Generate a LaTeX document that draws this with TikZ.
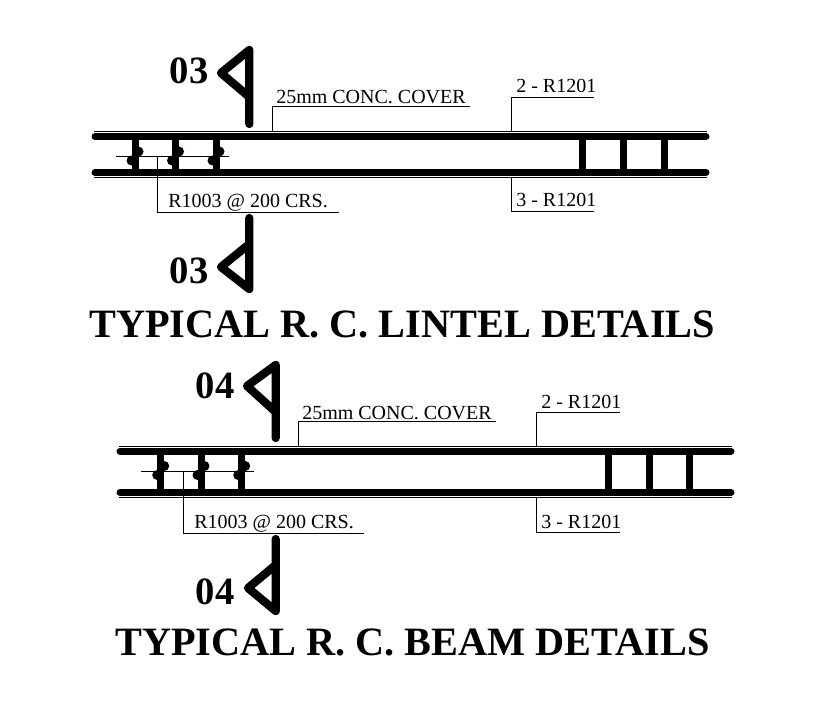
\documentclass[tikz,border=0pt]{standalone}
\usepackage{fontspec}
\setmainfont{Liberation Serif}
\tikzset{
  bar/.style={line width=5.25pt, line cap=round},
  stirrup/.style={line width=5.25pt},
  thinline/.style={line width=.7pt},
  sectionmark/.style={line width=6.2pt, line cap=round, line join=round},
  hook/.style={fill=black, radius=5},
  lbl/.style={anchor=base west, inner sep=0pt, font=\fontsize{15pt}{16pt}\selectfont},
  secno/.style={inner sep=0pt, font=\bfseries\fontsize{29pt}{30pt}\selectfont},
  heading/.style={anchor=base west, inner sep=0pt, font=\bfseries\fontsize{30.2pt}{32pt}\selectfont}
}
\begin{document}
\begin{tikzpicture}[x=.75pt, y=-.75pt]
  \useasboundingbox (0, 0) rectangle (835, 727);
  %%lintel bars
  \draw[thinline](94, 131.5) to (707, 131.5);
  \draw[bar](95, 136.5) to (706, 136.5);
  \draw[bar](95, 172.5) to (706, 172.5);
  \draw[thinline](94, 177.5) to (707, 177.5);
  %%lintel stirrups
  \draw[stirrup](135, 136.5) to (135, 172.5);
    \fill[hook](138.5, 151.5) circle;
    \fill[hook](131.5, 160.5) circle;
  \draw[stirrup](175.5, 136.5) to (175.5, 172.5);
    \fill[hook](179, 151.5) circle;
    \fill[hook](172, 160.5) circle;
  \draw[stirrup](216, 136.5) to (216, 172.5);
    \fill[hook](219.5, 151.5) circle;
    \fill[hook](212.5, 160.5) circle;
  \draw[stirrup](582.7, 136.5) to (582.7, 172.5);
  \draw[stirrup](623, 136.5) to (623, 172.5);
  \draw[stirrup](664, 136.5) to (664, 172.5);
  %%lintel leaders
  \draw[thinline](116, 156.5) to (229, 156.5);
  \draw[thinline](157.5, 156.5) to (157.5, 212.5) to (339, 212.5);
  \draw[thinline](272.5, 131.5) to (272.5, 106.5) to (470, 106.5);
  \draw[thinline](511.5, 131.5) to (511.5, 97.5) to (594, 97.5);
  \draw[thinline](511.5, 177.5) to (511.5, 211.5) to (594, 211.5);
  \node[lbl] (lintelcover) at (276, 104){25mm CONC. COVER};
  \node[lbl] (lintelstirrup) at (168, 208){R1003 @ 200 CRS.};
  \node[lbl] (lintelup) at (516, 93){2 - R1201};
  \node[lbl] (lintellow) at (516, 207){3 - R1201};
  %%lintel section marks
  \draw[sectionmark](249.3, 124) to (249.3, 50) to (221, 73) to (249.3, 97);
  \node[secno] (lintelsecup) at (189, 71){03};
  \draw[sectionmark](249.3, 218) to (249.3, 289) to (221, 267) to (249.3, 244);
  \node[secno] (lintelseclow) at (189, 271){03};
  \node[heading] (linteltitle) at (89, 337){TYPICAL R. C. LINTEL DETAILS};

  %%beam bars
  \draw[thinline](119, 446.5) to (732, 446.5);
  \draw[bar](120, 451.2) to (731, 451.2);
  \draw[bar](120, 492.3) to (731, 492.3);
  \draw[thinline](119, 497.5) to (732, 497.5);
  %%beam stirrups
  \draw[stirrup](160.7, 451.2) to (160.7, 492.3);
    \fill[hook](164.2, 466) circle;
    \fill[hook](157.2, 475) circle;
  \draw[stirrup](201, 451.2) to (201, 492.3);
    \fill[hook](204.5, 466) circle;
    \fill[hook](197.5, 475) circle;
  \draw[stirrup](241.7, 451.2) to (241.7, 492.3);
    \fill[hook](245.2, 466) circle;
    \fill[hook](238.2, 475) circle;
  \draw[stirrup](608, 451.2) to (608, 492.3);
  \draw[stirrup](649, 451.2) to (649, 492.3);
  \draw[stirrup](689, 451.2) to (689, 492.3);
  %%beam leaders
  \draw[thinline](141, 471.5) to (254, 471.5);
  \draw[thinline](183.5, 471.5) to (183.5, 533.5) to (364, 533.5);
  \draw[thinline](298.5, 446.5) to (298.5, 421.5) to (496, 421.5);
  \draw[thinline](536.5, 446.5) to (536.5, 412.5) to (620, 412.5);
  \draw[thinline](536.5, 497.5) to (536.5, 532.5) to (620, 532.5);
  \node[lbl] (beamcover) at (302, 419){25mm CONC. COVER};
  \node[lbl] (beamstirrup) at (194, 528){R1003 @ 200 CRS.};
  \node[lbl] (beamup) at (541, 408){2 - R1201};
  \node[lbl] (beamlow) at (541, 528){3 - R1201};
  %%beam section marks
  \draw[sectionmark](275.7, 438) to (275.7, 365) to (247, 386) to (275.7, 412);
  \node[secno] (beamsecup) at (215, 386){04};
  \draw[sectionmark](275.7, 539) to (275.7, 611) to (248, 588) to (275.7, 565);
  \node[secno] (beamseclow) at (215, 592){04};
  \node[heading] (beamtitle) at (115, 655){TYPICAL R. C. BEAM DETAILS};
\end{tikzpicture}
\end{document}
